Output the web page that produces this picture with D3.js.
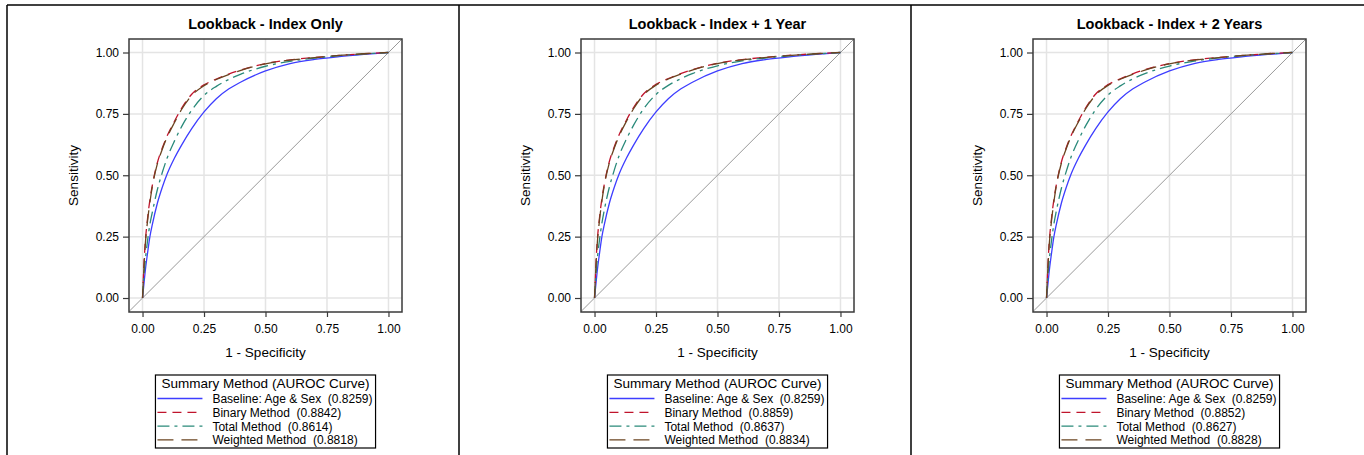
<!DOCTYPE html>
<html>
<head>
<meta charset="utf-8">
<script src="https://cdn.jsdelivr.net/npm/d3@7"></script>
<style>
  body { margin: 0; background: #fff; }
  text { font-family: "Liberation Sans", Arial, sans-serif; fill: #000; }
</style>
</head>
<body>
<div id="chart"></div>
<script>
// shared false-positive-rate grid
const fpr = [0, 0.005, 0.01, 0.02, 0.03, 0.04, 0.06, 0.08, 0.10, 0.13, 0.16, 0.20, 0.25, 0.30, 0.35, 0.40, 0.50, 0.60, 0.70, 0.80, 0.90, 1.0];

const titles = ["Lookback - Index Only", "Lookback - Index + 1 Year", "Lookback - Index + 2 Years"];
const methods = ["Baseline: Age & Sex", "Binary Method", "Total Method", "Weighted Method"];
const aurocs = [
  ["0.8259", "0.8842", "0.8614", "0.8818"],
  ["0.8259", "0.8859", "0.8637", "0.8834"],
  ["0.8259", "0.8852", "0.8627", "0.8828"]
];

const baselineTpr = [0, 0.05, 0.10, 0.18, 0.25, 0.30, 0.385, 0.45, 0.505, 0.57, 0.625, 0.69, 0.758, 0.812, 0.851, 0.88, 0.925, 0.955, 0.972, 0.983, 0.992, 1];

const binaryTpr = [
  [0, 0.12, 0.21, 0.32, 0.40, 0.46, 0.55, 0.61, 0.66, 0.72, 0.775, 0.83, 0.868, 0.892, 0.912, 0.929, 0.955, 0.97, 0.98, 0.988, 0.995, 1],
  [0, 0.12, 0.215, 0.325, 0.405, 0.465, 0.555, 0.615, 0.665, 0.725, 0.778, 0.832, 0.87, 0.894, 0.914, 0.931, 0.956, 0.971, 0.981, 0.989, 0.995, 1],
  [0, 0.12, 0.212, 0.322, 0.402, 0.462, 0.552, 0.612, 0.662, 0.722, 0.776, 0.831, 0.869, 0.893, 0.913, 0.93, 0.955, 0.97, 0.98, 0.988, 0.995, 1]
];
const totalTpr = [
  [0, 0.08, 0.14, 0.23, 0.30, 0.35, 0.44, 0.51, 0.57, 0.64, 0.70, 0.765, 0.825, 0.862, 0.89, 0.912, 0.944, 0.964, 0.977, 0.987, 0.994, 1],
  [0, 0.08, 0.145, 0.235, 0.305, 0.36, 0.45, 0.52, 0.58, 0.648, 0.706, 0.771, 0.829, 0.866, 0.893, 0.915, 0.946, 0.966, 0.978, 0.987, 0.994, 1],
  [0, 0.08, 0.142, 0.232, 0.302, 0.355, 0.445, 0.515, 0.575, 0.644, 0.703, 0.768, 0.827, 0.864, 0.892, 0.914, 0.945, 0.965, 0.978, 0.987, 0.994, 1]
];
const weightedTpr = [
  [0, 0.11, 0.20, 0.31, 0.39, 0.455, 0.545, 0.605, 0.655, 0.715, 0.77, 0.825, 0.865, 0.89, 0.91, 0.927, 0.954, 0.969, 0.979, 0.988, 0.995, 1],
  [0, 0.115, 0.205, 0.315, 0.395, 0.46, 0.55, 0.61, 0.66, 0.72, 0.773, 0.828, 0.867, 0.892, 0.912, 0.929, 0.955, 0.97, 0.98, 0.988, 0.995, 1],
  [0, 0.112, 0.202, 0.312, 0.392, 0.458, 0.548, 0.608, 0.658, 0.718, 0.772, 0.827, 0.866, 0.891, 0.911, 0.928, 0.954, 0.969, 0.979, 0.988, 0.995, 1]
];

const ticks = [0, 0.25, 0.5, 0.75, 1];

const colors = ["#3d3dff", "#c0142c", "#2a8a7a", "#6b4420"];
const dashes = [null, "9,6", "12,5,3,5", "16,8"];

const width = 1364;
const height = 455;
const panelW = 452;

const svg = d3
  .select("#chart")
  .append("svg")
  .attr("width", width)
  .attr("height", height);

// outer frame + dividers
svg.append("line").attr("x1", 7).attr("x2", width).attr("y1", 5).attr("y2", 5)
  .attr("stroke", "#000").attr("stroke-width", 1.5);
[7, 7 + panelW, 7 + 2 * panelW].forEach(x => {
  svg.append("line").attr("x1", x).attr("x2", x).attr("y1", 5).attr("y2", height)
    .attr("stroke", "#000").attr("stroke-width", 1.5);
});

const drawPanel = i => {
  const ox = i * panelW;
  const frame = { left: 129 + ox, right: 402 + ox, top: 39, bottom: 312 };

  const x = d3.scaleLinear().domain([-0.055, 1.055]).range([frame.left, frame.right]);
  const y = d3.scaleLinear().domain([-0.057, 1.055]).range([frame.bottom, frame.top]);

  const g = svg.append("g");

  g.append("clipPath").attr("id", "clip" + i)
    .append("rect")
    .attr("x", frame.left).attr("y", frame.top)
    .attr("width", frame.right - frame.left).attr("height", frame.bottom - frame.top);

  // grid
  g.selectAll(".gx").data(ticks).enter().append("line")
    .attr("x1", d => x(d)).attr("x2", d => x(d))
    .attr("y1", frame.top).attr("y2", frame.bottom)
    .attr("stroke", "#e4e4e4").attr("stroke-width", 1.5);
  g.selectAll(".gy").data(ticks).enter().append("line")
    .attr("y1", d => y(d)).attr("y2", d => y(d))
    .attr("x1", frame.left).attr("x2", frame.right)
    .attr("stroke", "#e4e4e4").attr("stroke-width", 1.5);

  const plot = g.append("g").attr("clip-path", `url(#clip${i})`);

  // diagonal reference
  plot.append("line")
    .attr("x1", x(-0.1)).attr("y1", y(-0.1))
    .attr("x2", x(1.1)).attr("y2", y(1.1))
    .attr("stroke", "#999").attr("stroke-width", 1);

  const series = [baselineTpr, binaryTpr[i], totalTpr[i], weightedTpr[i]];
  const line = d3.line()
    .x((d, k) => x(fpr[k]))
    .y(d => y(d))
    .curve(d3.curveMonotoneX);

  series.forEach((s, k) => {
    plot.append("path")
      .datum(s)
      .attr("d", line)
      .attr("fill", "none")
      .attr("stroke", colors[k])
      .attr("stroke-width", 1.3)
      .attr("stroke-dasharray", dashes[k]);
  });

  // frame
  g.append("rect")
    .attr("x", frame.left).attr("y", frame.top)
    .attr("width", frame.right - frame.left).attr("height", frame.bottom - frame.top)
    .attr("fill", "none").attr("stroke", "#3a3a3a").attr("stroke-width", 1.5);

  // axes
  const xAxis = d3.axisBottom(x).tickValues(ticks).tickFormat(d3.format(".2f"))
    .tickSize(5).tickPadding(7);
  const yAxis = d3.axisLeft(y).tickValues(ticks).tickFormat(d3.format(".2f"))
    .tickSize(6).tickPadding(4);

  const ax = g.append("g").attr("transform", `translate(0,${frame.bottom})`).call(xAxis);
  const ay = g.append("g").attr("transform", `translate(${frame.left},0)`).call(yAxis);
  [ax, ay].forEach(a => {
    a.select(".domain").remove();
    a.selectAll(".tick line").attr("stroke", "#3a3a3a").attr("stroke-width", 1.2);
    a.selectAll(".tick text").style("font-size", "12px").style("font-family", "Liberation Sans, Arial, sans-serif").attr("fill", "#000");
  });

  const cx = (frame.left + frame.right) / 2;

  g.append("text")
    .attr("x", cx).attr("y", 29)
    .attr("text-anchor", "middle")
    .style("font-size", "14.5px").style("font-weight", "bold")
    .text(titles[i]);

  g.append("text")
    .attr("x", cx).attr("y", 356.5)
    .attr("text-anchor", "middle")
    .style("font-size", "13.5px")
    .text("1 - Specificity");

  g.append("text")
    .attr("transform", `translate(${78 + ox},${(frame.top + frame.bottom) / 2}) rotate(-90)`)
    .attr("text-anchor", "middle")
    .style("font-size", "13.5px")
    .text("Sensitivity");

  // legend
  const leg = g.append("g");
  const title = leg.append("text")
    .attr("y", 388)
    .attr("text-anchor", "middle")
    .style("font-size", "13.5px")
    .text("Summary Method (AUROC Curve)");

  const rows = methods.map((m, k) => `${m}  (${aurocs[i][k]})`);
  const labels = leg.selectAll(".lab").data(rows).enter().append("text")
    .attr("y", (d, k) => 403 + k * 13.8)
    .attr("xml:space", "preserve")
    .style("white-space", "pre")
    .style("font-size", "12px")
    .text(d => d);

  const titleW = title.node().getComputedTextLength();
  const labW = d3.max(labels.nodes(), n => n.getComputedTextLength());
  const boxW = Math.max(titleW + 8, 57 + labW + 3);
  const left = cx - boxW / 2;

  title.attr("x", cx);
  labels.attr("x", left + 57);

  leg.selectAll(".sw").data(rows).enter().append("line")
    .attr("x1", left + 2).attr("x2", left + 47)
    .attr("y1", (d, k) => 398.5 + k * 13.8).attr("y2", (d, k) => 398.5 + k * 13.8)
    .attr("stroke", (d, k) => colors[k])
    .attr("stroke-width", 1.3)
    .attr("stroke-dasharray", (d, k) => dashes[k]);

  leg.append("rect")
    .attr("x", left).attr("y", 375)
    .attr("width", boxW).attr("height", 73)
    .attr("fill", "none").attr("stroke", "#000").attr("stroke-width", 1.2);
};

[0, 1, 2].forEach(drawPanel);
</script>
</body>
</html>
